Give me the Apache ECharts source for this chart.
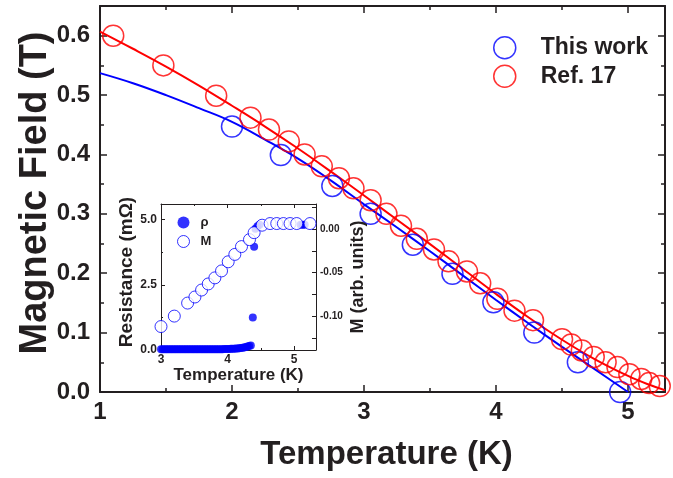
<!DOCTYPE html>
<html>
<head>
<meta charset="utf-8">
<script src="https://cdn.jsdelivr.net/npm/echarts@6/dist/echarts.min.js"></script>
<style>
  html, body { margin: 0; padding: 0; background: #fff; }
  #chart { width: 673px; height: 478px; }
</style>
</head>
<body>
<div id="chart"></div>
<script>
// Upper critical field Hc2(T): this work vs. Ref. 17
const thisWorkT = [2.00, 2.37, 2.76, 3.05, 3.37, 3.67, 3.98, 4.29, 4.62, 4.94];
const thisWorkB = [0.447, 0.399, 0.347, 0.300, 0.248, 0.199, 0.151, 0.100, 0.050, 0.000];

const ref17T = [1.10, 1.48, 1.88, 2.14, 2.28, 2.43, 2.55, 2.68, 2.81, 2.92, 3.05, 3.17,
                3.28, 3.40, 3.53, 3.64, 3.78, 3.88, 4.01, 4.14, 4.28, 4.50, 4.57, 4.65,
                4.74, 4.83, 4.92, 5.01, 5.10, 5.16, 5.24, 5.29];
const ref17B = [0.600, 0.550, 0.499, 0.462, 0.442, 0.422, 0.400, 0.380, 0.360, 0.343, 0.323, 0.300,
                0.280, 0.258, 0.240, 0.220, 0.203, 0.183, 0.157, 0.137, 0.121, 0.089, 0.080, 0.070,
                0.059, 0.050, 0.042, 0.030, 0.022, 0.015, 0.010, 0.013];

// fitted curves
const fitThisWorkT = [1.00, 1.25, 1.50, 1.75, 2.00, 2.25, 2.50, 2.75, 3.00, 3.25, 3.50, 3.75, 4.00, 4.25, 4.50, 4.75, 5.00];
const fitThisWorkB = [0.537, 0.520, 0.500, 0.478, 0.455, 0.425, 0.393, 0.356, 0.316, 0.277, 0.237, 0.196, 0.155, 0.115, 0.076, 0.038, 0.000];
const fitRef17T = [1.00, 1.25, 1.50, 1.75, 2.00, 2.25, 2.50, 2.75, 3.00, 3.25, 3.50, 3.75, 4.00, 4.25, 4.50, 4.75, 5.00, 5.15, 5.28];
const fitRef17B = [0.607, 0.578, 0.548, 0.516, 0.482, 0.447, 0.410, 0.371, 0.331, 0.290, 0.249, 0.207, 0.165, 0.125, 0.088, 0.055, 0.027, 0.013, 0.003];

// inset: resistance and magnetization vs temperature
const rhoT = [3.000, 3.025, 3.050, 3.075, 3.100, 3.125, 3.150, 3.175, 3.200, 3.225, 3.250, 3.275,
              3.300, 3.325, 3.350, 3.375, 3.400, 3.425, 3.450, 3.475, 3.500, 3.525, 3.550, 3.575,
              3.600, 3.625, 3.650, 3.675, 3.700, 3.725, 3.750, 3.775, 3.800, 3.825, 3.850, 3.875,
              3.900, 3.925, 3.950, 3.975, 4.000, 4.025, 4.050, 4.075, 4.100, 4.125, 4.150, 4.175,
              4.200, 4.225, 4.250, 4.275, 4.300, 4.325, 4.350,
              4.38, 4.40, 4.42, 4.45, 4.48, 5.10, 5.13, 5.16];
const rhoR = [0.03, 0.03, 0.03, 0.03, 0.03, 0.03, 0.03, 0.03, 0.03, 0.03, 0.03, 0.03,
              0.03, 0.03, 0.03, 0.03, 0.03, 0.03, 0.03, 0.03, 0.03, 0.03, 0.03, 0.03,
              0.03, 0.03, 0.03, 0.03, 0.03, 0.03, 0.03, 0.03, 0.03, 0.03, 0.03, 0.03,
              0.03, 0.03, 0.035, 0.035, 0.04, 0.04, 0.045, 0.045, 0.05, 0.055, 0.06, 0.07,
              0.08, 0.09, 0.10, 0.115, 0.13, 0.15, 0.17,
              1.25, 3.96, 4.65, 4.75, 4.80, 4.80, 4.80, 4.80];
const magT = [3.00, 3.20, 3.40, 3.51, 3.61, 3.71, 3.81, 3.91, 4.01, 4.11, 4.21, 4.33, 4.40, 4.52,
              4.64, 4.74, 4.84, 4.94, 5.04, 5.24];
const magM = [-0.112, -0.100, -0.085, -0.078, -0.070, -0.063, -0.056, -0.048, -0.0375, -0.029, -0.020, -0.012, -0.004, 0.0046,
              0.0065, 0.0065, 0.0065, 0.0065, 0.0065, 0.0065];

const zip = (xs, ys) => xs.map((x, i) => [x, ys[i]]);

const BLUE = '#0000ff';
const RED = '#ff0000';
const INK = '#231f20';
const FONT = 'Liberation Sans';

const frameAxis = (extra) => Object.assign({
  axisLine: { show: true, onZero: false, lineStyle: { color: INK, width: 2 } },
  axisTick: { show: true, inside: true, length: 7, lineStyle: { color: INK, width: 1.5 } },
  minorTick: { show: true, splitNumber: 2, length: 4, lineStyle: { color: INK, width: 1.5 } },
  splitLine: { show: false },
}, extra);

const insetAxis = (extra) => Object.assign({
  axisLine: { show: true, onZero: false, lineStyle: { color: INK, width: 1 } },
  axisTick: { show: true, inside: true, length: 4, lineStyle: { color: INK, width: 1 } },
  minorTick: { show: true, splitNumber: 2, length: 2, lineStyle: { color: INK, width: 1 } },
  splitLine: { show: false },
}, extra);

const mainLabel = { color: INK, fontFamily: FONT, fontWeight: 'bold', fontSize: 24, showMaxLabel: false };
const insetLabel = { color: INK, fontFamily: FONT, fontWeight: 'bold', fontSize: 12, showMaxLabel: false };

const openCircle = (color, w) => ({ color: 'rgba(0,0,0,0)', borderColor: color, borderWidth: w });

const option = {
  animation: false,
  backgroundColor: '#fff',
  grid: [
    { left: 100, top: 6, right: 8, bottom: 86, outerBoundsMode: 'none', containLabel: false },
    { left: 161, top: 204, width: 155, height: 146, outerBoundsMode: 'none', containLabel: false,
      show: true, backgroundColor: '#fff', borderWidth: 0, z: 5 },
  ],
  xAxis: [
    frameAxis({
      gridIndex: 0, type: 'value', min: 1, max: 5.28, interval: 1, position: 'bottom',
      axisLabel: Object.assign({ margin: 8, formatter: v => String(v) }, mainLabel),
      name: 'Temperature (K)', nameLocation: 'middle', nameGap: 46,
      nameTextStyle: { color: INK, fontFamily: FONT, fontWeight: 'bold', fontSize: 33, padding: [0, 0, 0, 8] },
    }),
    frameAxis({
      gridIndex: 0, type: 'value', min: 1, max: 5.28, interval: 1, position: 'top',
      axisLabel: { show: false },
    }),
    insetAxis({
      gridIndex: 1, type: 'value', min: 3, max: 5.33, interval: 1, position: 'bottom', z: 6,
      axisLabel: Object.assign({ margin: 4, formatter: v => String(v) }, insetLabel),
      name: 'Temperature (K)', nameLocation: 'middle', nameGap: 17,
      nameTextStyle: { color: INK, fontFamily: FONT, fontWeight: 'bold', fontSize: 17 },
    }),
    insetAxis({
      gridIndex: 1, type: 'value', min: 3, max: 5.33, interval: 1, position: 'top', z: 6,
      axisLabel: { show: false },
    }),
  ],
  yAxis: [
    frameAxis({
      gridIndex: 0, type: 'value', min: 0, max: 0.65, interval: 0.1, position: 'left',
      axisLabel: Object.assign({ margin: 10, formatter: v => v.toFixed(1) }, mainLabel),
      name: 'Magnetic Field (T)', nameLocation: 'middle', nameGap: 45, nameRotate: 90,
      nameMoveOverlap: false,
      nameTextStyle: { color: INK, fontFamily: FONT, fontWeight: 'bold', fontSize: 38, padding: [0, 0, 0, 12] },
    }),
    frameAxis({
      gridIndex: 0, type: 'value', min: 0, max: 0.65, interval: 0.1, position: 'right',
      axisLabel: { show: false },
    }),
    insetAxis({
      gridIndex: 1, type: 'value', min: 0, max: 5.6, interval: 2.5, position: 'left', z: 6,
      axisLabel: Object.assign({ margin: 4, formatter: v => v.toFixed(1) }, insetLabel),
      name: 'Resistance (m\u03A9)', nameLocation: 'middle', nameGap: 25, nameRotate: 90,
      nameTextStyle: { color: INK, fontFamily: FONT, fontWeight: 'bold', fontSize: 19, padding: [0, 0, 0, 10] },
    }),
    insetAxis({
      gridIndex: 1, type: 'value', min: -0.139, max: 0.029, position: 'right', z: 6,
      axisLabel: {
        margin: 4, formatter: v => v.toFixed(2), customValues: [-0.10, -0.05, 0.00],
        color: INK, fontFamily: FONT, fontWeight: 'bold', fontSize: 10,
      },
      axisTick: { show: true, inside: true, length: 4, lineStyle: { color: INK, width: 1 },
        customValues: [-0.125, -0.10, -0.075, -0.05, -0.025, 0.00, 0.025] },
      minorTick: { show: false },
      name: 'M (arb. units)', nameLocation: 'middle', nameGap: 33, nameRotate: 90,
      nameTextStyle: { color: INK, fontFamily: FONT, fontWeight: 'bold', fontSize: 18 },
    }),
  ],
  legend: [
    {
      data: [
        { name: 'This work', icon: 'circle', itemStyle: openCircle(BLUE, 1.5) },
        { name: 'Ref. 17', icon: 'circle', itemStyle: openCircle(RED, 1.5) },
      ],
      orient: 'vertical', left: 488, top: 31, itemWidth: 22, itemHeight: 22, itemGap: 5,
      textStyle: { color: INK, fontFamily: FONT, fontWeight: 'bold', fontSize: 23, padding: [0, 0, 0, 20] },
      selectedMode: false,
    },
    {
      data: [
        { name: '\u03C1', icon: 'circle', itemStyle: { color: BLUE } },
        { name: 'M', icon: 'circle', itemStyle: { color: '#fff', borderColor: BLUE, borderWidth: 1 } },
      ],
      orient: 'vertical', left: 172, top: 211, itemWidth: 12, itemHeight: 12, itemGap: 6, z: 10,
      textStyle: { color: INK, fontFamily: FONT, fontWeight: 'bold', fontSize: 13, padding: [0, 0, 0, 6] },
      selectedMode: false,
    },
  ],
  series: [
    {
      name: 'fit-this-work', type: 'line', xAxisIndex: 0, yAxisIndex: 0,
      data: zip(fitThisWorkT, fitThisWorkB), smooth: 0.4, showSymbol: false,
      lineStyle: { color: BLUE, width: 2 }, z: 2,
    },
    {
      name: 'fit-ref17', type: 'line', xAxisIndex: 0, yAxisIndex: 0,
      data: zip(fitRef17T, fitRef17B), smooth: 0.4, showSymbol: false,
      lineStyle: { color: RED, width: 2 }, z: 2,
    },
    {
      name: 'This work', type: 'scatter', xAxisIndex: 0, yAxisIndex: 0,
      data: zip(thisWorkT, thisWorkB), symbol: 'circle', symbolSize: 21,
      itemStyle: openCircle(BLUE, 1.5), z: 3,
    },
    {
      name: 'Ref. 17', type: 'scatter', xAxisIndex: 0, yAxisIndex: 0,
      data: zip(ref17T, ref17B), symbol: 'circle', symbolSize: 21,
      itemStyle: openCircle(RED, 1.5), z: 4,
    },
    {
      name: '\u03C1', type: 'scatter', xAxisIndex: 2, yAxisIndex: 2,
      data: zip(rhoT, rhoR), symbol: 'circle', symbolSize: 8,
      itemStyle: { color: BLUE }, z: 7,
    },
    {
      name: 'M', type: 'scatter', xAxisIndex: 2, yAxisIndex: 3,
      data: zip(magT, magM), symbol: 'circle', symbolSize: 12,
      itemStyle: { color: '#fff', borderColor: BLUE, borderWidth: 1 }, z: 8,
    },
  ],
};

echarts.init(document.getElementById('chart'), null, { renderer: 'canvas' }).setOption(option);
</script>
</body>
</html>
